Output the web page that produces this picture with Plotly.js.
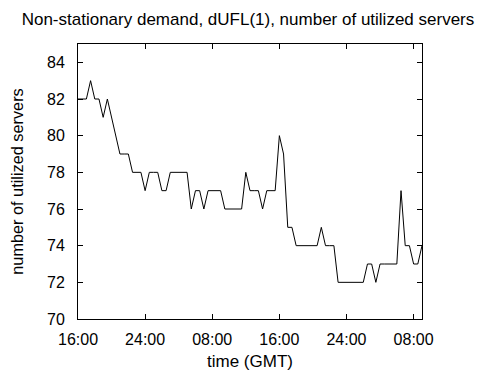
<!DOCTYPE html>
<html>
<head>
<meta charset="utf-8">
<script src="https://cdn.plot.ly/plotly-3.0.1.min.js"></script>
<style>
html,body{margin:0;padding:0;background:#fff;}
#chart{width:493px;height:371px;}
</style>
</head>
<body>
<div id="chart"></div>
<script>
// time in hours since 16:00 (half-hour samples)
const hours = [];
for (let i = 0; i <= 82; i++) hours.push(i * 0.5);
const servers = [82,82,82,83,82,82,81,82,81,80,79,79,79,78,78,78,77,78,78,78,
  77,77,78,78,78,78,78,76,77,77,76,77,77,77,77,76,76,76,76,76,
  78,77,77,77,76,77,77,77,80,79,75,75,74,74,74,74,74,74,75,74,
  74,74,72,72,72,72,72,72,72,73,73,72,73,73,73,73,73,77,74,74,
  73,73,74];
const xTickVals = [0, 8, 16, 24, 32, 40];
const xTickText = ["16:00", "24:00", "08:00", "16:00", "24:00", "08:00"];
const yTickVals = [70, 72, 74, 76, 78, 80, 82, 84];

const fam = "Liberation Sans, Arial, sans-serif";
const font = {family: fam, size: 16, color: "#000"};

Plotly.newPlot("chart", [{
  x: hours, y: servers, type: "scatter", mode: "lines",
  line: {color: "#000", width: 1}, hoverinfo: "skip"
}], {
  width: 493, height: 371,
  margin: {l: 78, r: 71, t: 44, b: 52, pad: 0},
  paper_bgcolor: "#fff", plot_bgcolor: "#fff",
  font: font,
  showlegend: false,
  title: {text: "Non-stationary demand, dUFL(1), number of utilized servers",
          font: {family: fam, size: 17, color: "#000"}, x: 0.503, xanchor: "center", y: 0.948, yanchor: "middle", yref: "container"},
  xaxis: {range: [0, 41], tickvals: xTickVals, ticktext: xTickText,
          ticks: "inside", ticklen: 5, tickcolor: "#000", showgrid: false, zeroline: false,
          showline: true, linecolor: "#000", linewidth: 1, mirror: "ticks",
          tickfont: font, ticklabelstandoff: 6,
          title: {text: "time (GMT)", font: {family: fam, size: 17, color: "#000"}, standoff: 7}},
  yaxis: {range: [70, 85], tickvals: yTickVals,
          ticks: "inside", ticklen: 5, tickcolor: "#000", showgrid: false, zeroline: false,
          showline: true, linecolor: "#000", linewidth: 1, mirror: "ticks",
          tickfont: font, ticklabelstandoff: 9,
          title: {text: "number of utilized servers", font: {family: fam, size: 16.3, color: "#000"}, standoff: 19}}
}, {staticPlot: true});
</script>
</body>
</html>
